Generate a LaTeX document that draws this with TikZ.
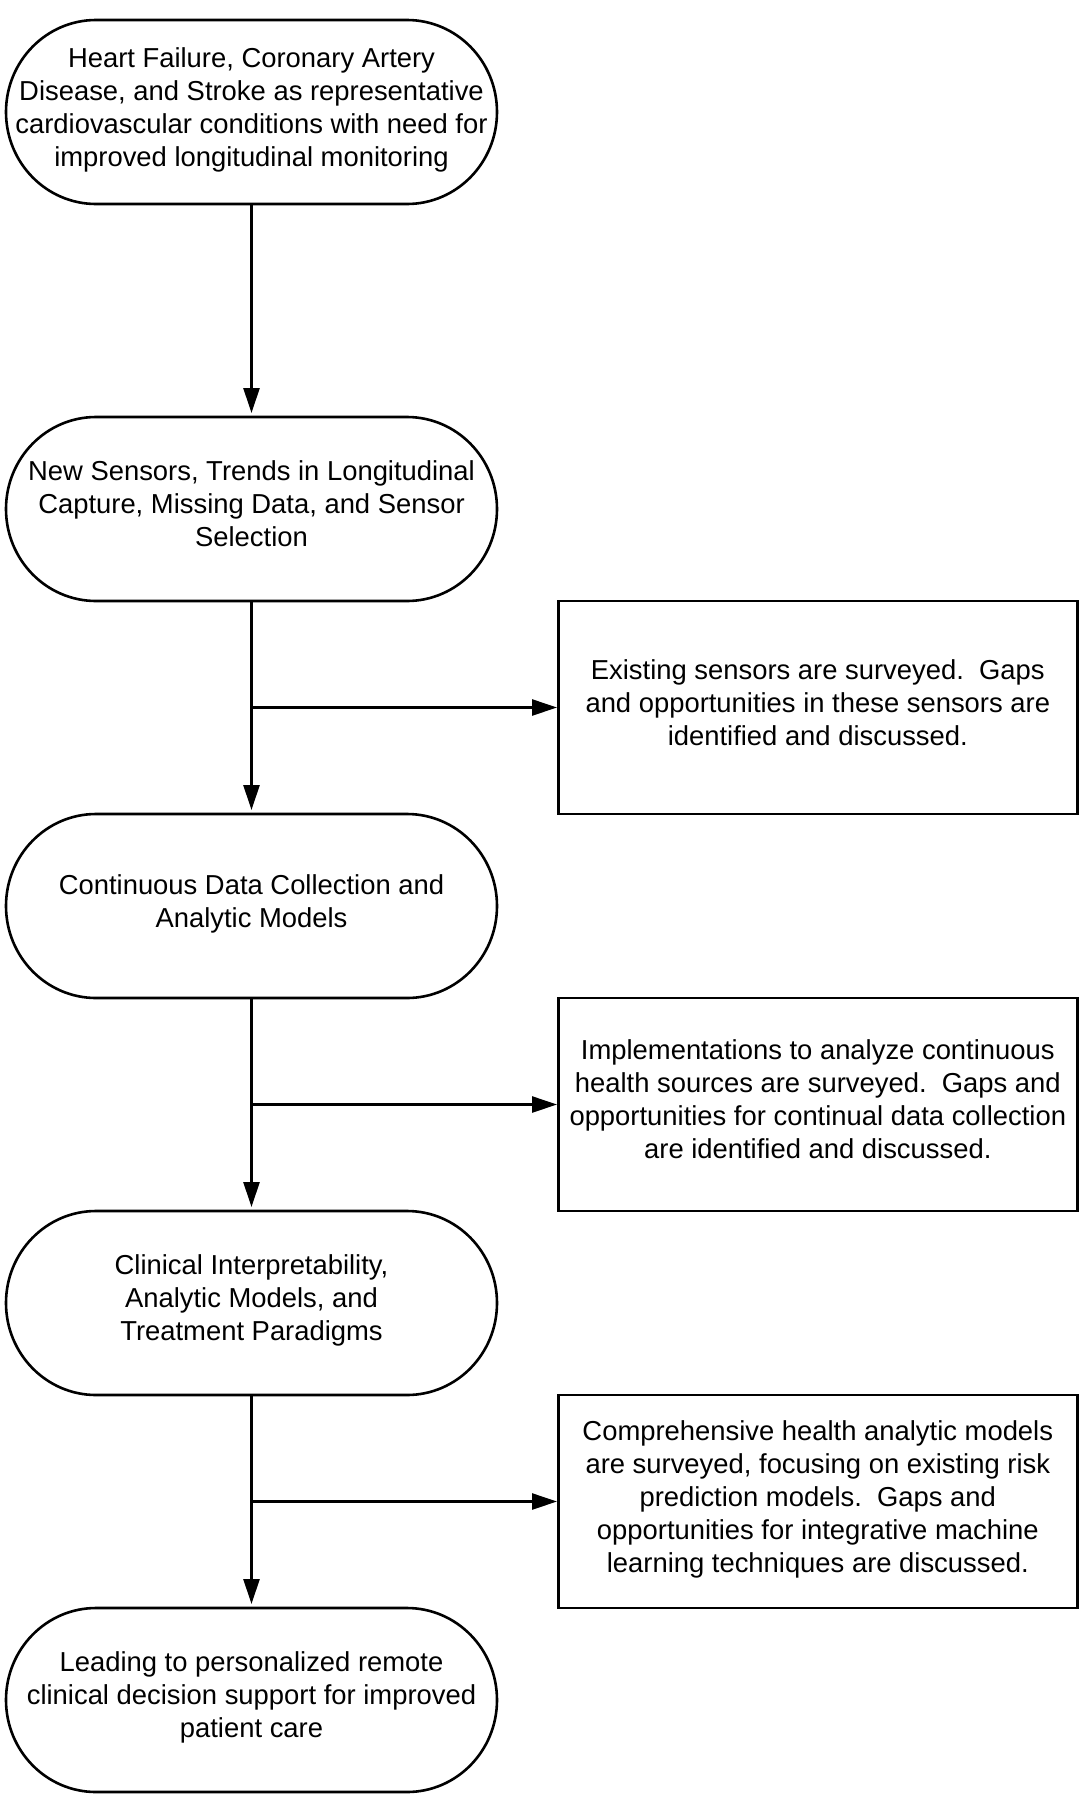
\documentclass[tikz,border=0pt]{standalone}
\usepackage{fontspec}
\setmainfont{Liberation Sans}
\usetikzlibrary{positioning,calc,arrows.meta}

\begin{document}
\begin{tikzpicture}
	[node distance=106.5pt, align=center, line width=1.3pt, font=\fontsize{13.7pt}{16.5pt}\selectfont,
	 stage/.style={rectangle, inner sep=0pt, outer sep=0pt, minimum width=245.5pt, minimum height=92pt, execute at begin node=\strut, execute at end node=\strut},
	 outline/.style={line width=1.3pt, line join=round},
	 note/.style={rectangle, draw, line width=1.3pt, inner sep=0pt, minimum width=259.5pt, minimum height=106.5pt, execute at begin node=\strut, execute at end node=\strut},
	 flow/.style={-{Triangle[length=12.5pt, width=8pt]}, shorten >=2pt}];
	\useasboundingbox (0,0) rectangle (542pt,-900pt);
	\node [stage] (conditions) at (125.75pt,-56pt) {Heart Failure, Coronary Artery\\Disease, and Stroke as representative\\cardiovascular conditions with need for\\improved longitudinal monitoring};
	\node [stage, below=of conditions] (sensors) {New Sensors, Trends in Longitudinal\\Capture, Missing Data, and Sensor\\Selection};
	\node [stage, below=of sensors] (continuous) {Continuous Data Collection and\\Analytic Models};
	\node [stage, below=of continuous] (clinical) {Clinical Interpretability,\\Analytic Models, and\\Treatment Paradigms};
	\node [stage, below=of clinical] (decision) {Leading to personalized remote\\clinical decision support for improved\\patient care};
	\foreach \blk in {conditions, sensors, continuous, clinical, decision}
		\draw [outline] let \p1=(\blk.north), \p2=(\blk.south), \n1={(\y1-\y2)/2} in
			([xshift=45pt]\blk.north west) -- ([xshift=-45pt]\blk.north east)
			arc [start angle=90, end angle=-90, x radius=45pt, y radius=\n1]
			-- ([xshift=45pt]\blk.south west)
			arc [start angle=270, end angle=90, x radius=45pt, y radius=\n1] -- cycle;
	\coordinate (split1) at ($(sensors.south)!0.5!(continuous.north)$);
	\coordinate (split2) at ($(continuous.south)!0.5!(clinical.north)$);
	\coordinate (split3) at ($(clinical.south)!0.5!(decision.north)$);
	\node [note, anchor=west] (survey1) at ([xshift=30pt]split1 -| sensors.east) {Existing sensors are surveyed.\ \ Gaps\\and opportunities in these sensors are\\identified and discussed.};
	\node [note, anchor=west] (survey2) at ([xshift=30pt]split2 -| continuous.east) {Implementations to analyze continuous\\health sources are surveyed.\ \ Gaps and\\opportunities for continual data collection\\are identified and discussed.};
	\node [note, anchor=west] (survey3) at ([xshift=30pt]split3 -| clinical.east) {Comprehensive health analytic models\\are surveyed, focusing on existing risk\\prediction models.\ \ Gaps and\\opportunities for integrative machine\\learning techniques are discussed.};
	\draw [flow] (conditions) -- (sensors);
	\draw [flow] (sensors) -- (continuous);
	\draw [flow] (continuous) -- (clinical);
	\draw [flow] (clinical) -- (decision);
	\draw [flow, shorten >=0pt] (split1) -- (survey1);
	\draw [flow, shorten >=0pt] (split2) -- (survey2);
	\draw [flow, shorten >=0pt] (split3) -- (survey3);
\end{tikzpicture}
\end{document}
